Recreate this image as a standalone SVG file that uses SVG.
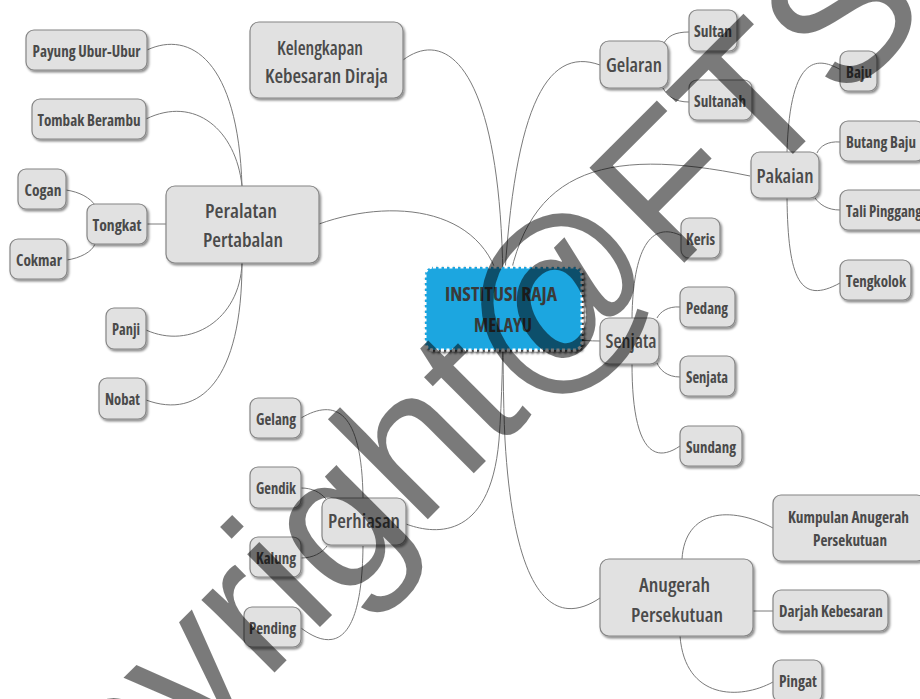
<svg xmlns="http://www.w3.org/2000/svg" width="920" height="699" viewBox="0 0 920 699">
<defs>
<filter id="sh" x="-20%" y="-20%" width="140%" height="150%">
<feDropShadow dx="1.5" dy="2" stdDeviation="1.2" flood-color="#000" flood-opacity="0.45"/>
</filter>
<filter id="sh2" x="-20%" y="-20%" width="140%" height="150%">
<feDropShadow dx="2" dy="2" stdDeviation="1" flood-color="#000" flood-opacity="0.75"/>
</filter>
<style>
.n rect{fill:#e1e1e1;stroke:#868686;stroke-width:1.2;filter:url(#sh)}
.t{font-family:"Open Sans","Noto Sans",sans-serif;fill:#4a4a4a;text-anchor:middle;font-stretch:condensed}
.s{font-size:15.5px;font-weight:700}
.m{font-size:19.5px;font-weight:600}
.k{font-size:19px;font-weight:700;fill:#3a3a3a}
#conn path{fill:none;stroke:#7a7a7a;stroke-width:1}
.wm{font-family:"Liberation Sans",Arial,sans-serif;font-size:195px;fill:#000;fill-opacity:0.52}
</style>
</defs>
<rect width="920" height="699" fill="#fff"/>
<g id="conn">
<path d="M403,60 C450,25 505,75 503,308"/>
<path d="M600,65 C545,45 512,110 503,308"/>
<path d="M750,176 C600,145 520,170 505,308"/>
<path d="M319,224 C400,195 500,210 503,308"/>
<path d="M600,341 C560,341 520,330 503,308"/>
<path d="M406,524 C430,533 490,545 499,440 C502,400 503,350 503,308"/>
<path d="M600,598 C560,625 515,610 505,440 C503,400 503,350 503,308"/>
<path d="M147,50 C190,30 238,60 242,186"/>
<path d="M146,119 C195,95 236,130 242,186"/>
<path d="M147,224 L166,224"/>
<path d="M146,330 C190,350 240,320 242,263"/>
<path d="M146,400 C200,420 242,380 242,263"/>
<path d="M66,190 C80,192 90,198 95,205"/>
<path d="M67,260 C80,258 92,252 95,244"/>
<path d="M689,32 C675,32 668,36 664,43"/>
<path d="M689,102 C675,102 667,96 663,88"/>
<path d="M841,70 C820,58 790,50 787,152"/>
<path d="M840,142 C828,141 820,146 817,153"/>
<path d="M840,210 C828,210 820,205 815,198"/>
<path d="M787,198 C788,280 800,305 840,283"/>
<path d="M682,236 C650,220 633,250 632,318"/>
<path d="M680,307 C668,306 660,312 657,318"/>
<path d="M680,377 C667,377 660,370 657,363"/>
<path d="M632,364 C632,430 645,470 680,446"/>
<path d="M301,418 C335,398 362,410 363,498"/>
<path d="M301,488 C312,488 320,492 326,499"/>
<path d="M301,558 C313,558 322,553 327,546"/>
<path d="M301,628 C330,650 362,650 363,546"/>
<path d="M682,559 C685,510 730,505 773,528"/>
<path d="M753,611 L773,611"/>
<path d="M680,636 C685,700 740,700 773,682"/>
</g>
<g id="center">
<rect x="425" y="267" width="157" height="83" rx="8" fill="#1fa6e0" stroke="#fff" stroke-width="3" stroke-dasharray="3 2.5" filter="url(#sh2)"/>
<text class="t k" x="501" y="301" textLength="112" lengthAdjust="spacingAndGlyphs">INSTITUSI RAJA</text>
<text class="t k" x="503" y="332" textLength="58" lengthAdjust="spacingAndGlyphs">MELAYU</text>
</g>
<g id="kelengkapan" class="n"><rect x="250" y="22" width="153" height="76" rx="9"/>
<text class="t m" x="320" y="55" textLength="86" lengthAdjust="spacingAndGlyphs">Kelengkapan</text>
<text class="t m" x="326.5" y="83" textLength="123" lengthAdjust="spacingAndGlyphs">Kebesaran Diraja</text></g>
<g id="peralatan" class="n"><rect x="166" y="186" width="153" height="77" rx="9"/>
<text class="t m" x="241" y="218" textLength="72" lengthAdjust="spacingAndGlyphs">Peralatan</text>
<text class="t m" x="243" y="247" textLength="80" lengthAdjust="spacingAndGlyphs">Pertabalan</text></g>
<g id="gelaran" class="n"><rect x="600" y="41" width="68" height="47" rx="9"/>
<text class="t m" x="634" y="72" textLength="56" lengthAdjust="spacingAndGlyphs">Gelaran</text></g>
<g id="pakaian" class="n"><rect x="751" y="152" width="68" height="46" rx="9"/>
<text class="t m" x="785" y="183" textLength="57" lengthAdjust="spacingAndGlyphs">Pakaian</text></g>
<g id="senjata" class="n"><rect x="600" y="318" width="59" height="46" rx="9"/>
<text class="t m" x="631" y="348" textLength="51" lengthAdjust="spacingAndGlyphs">Senjata</text></g>
<g id="perhiasan" class="n"><rect x="322" y="498" width="84" height="47" rx="9"/>
<text class="t m" x="364" y="528" textLength="72" lengthAdjust="spacingAndGlyphs">Perhiasan</text></g>
<g id="anugerah" class="n"><rect x="600" y="559" width="153" height="77" rx="9"/>
<text class="t m" x="674.5" y="592" textLength="71" lengthAdjust="spacingAndGlyphs">Anugerah</text>
<text class="t m" x="677" y="622" textLength="92" lengthAdjust="spacingAndGlyphs">Persekutuan</text></g>
<g id="payung" class="n"><rect x="26" y="30" width="121" height="40" rx="8"/>
<text class="t s" x="86.5" y="56.5" textLength="108" lengthAdjust="spacingAndGlyphs">Payung Ubur-Ubur</text></g>
<g id="tombak" class="n"><rect x="32" y="99" width="114" height="40" rx="8"/>
<text class="t s" x="89" y="125.5" textLength="103" lengthAdjust="spacingAndGlyphs">Tombak Berambu</text></g>
<g id="cogan" class="n"><rect x="18" y="169" width="48" height="40" rx="8"/>
<text class="t s" x="43" y="195.5" textLength="37" lengthAdjust="spacingAndGlyphs">Cogan</text></g>
<g id="tongkat" class="n"><rect x="87" y="204" width="60" height="40" rx="8"/>
<text class="t s" x="117" y="230.5" textLength="49" lengthAdjust="spacingAndGlyphs">Tongkat</text></g>
<g id="cokmar" class="n"><rect x="10" y="239" width="57" height="40" rx="8"/>
<text class="t s" x="39" y="265.5" textLength="46" lengthAdjust="spacingAndGlyphs">Cokmar</text></g>
<g id="panji" class="n"><rect x="106" y="308" width="40" height="41" rx="8"/>
<text class="t s" x="126" y="335" textLength="28" lengthAdjust="spacingAndGlyphs">Panji</text></g>
<g id="nobat" class="n"><rect x="99" y="378" width="47" height="41" rx="8"/>
<text class="t s" x="122.5" y="405" textLength="35" lengthAdjust="spacingAndGlyphs">Nobat</text></g>
<g id="gelang" class="n"><rect x="250" y="398" width="51" height="40" rx="8"/>
<text class="t s" x="276" y="424.5" textLength="40" lengthAdjust="spacingAndGlyphs">Gelang</text></g>
<g id="gendik" class="n"><rect x="250" y="467" width="51" height="41" rx="8"/>
<text class="t s" x="276" y="493.5" textLength="40" lengthAdjust="spacingAndGlyphs">Gendik</text></g>
<g id="kalung" class="n"><rect x="250" y="537" width="51" height="40" rx="8"/>
<text class="t s" x="276" y="563.5" textLength="40" lengthAdjust="spacingAndGlyphs">Kalung</text></g>
<g id="pending" class="n"><rect x="244" y="607" width="57" height="40" rx="8"/>
<text class="t s" x="272.5" y="633.5" textLength="47" lengthAdjust="spacingAndGlyphs">Pending</text></g>
<g id="sultan" class="n"><rect x="689" y="10" width="48" height="41" rx="8"/>
<text class="t s" x="713" y="37" textLength="38" lengthAdjust="spacingAndGlyphs">Sultan</text></g>
<g id="sultanah" class="n"><rect x="689" y="80" width="63" height="40" rx="8"/>
<text class="t s" x="720" y="106.5" textLength="52" lengthAdjust="spacingAndGlyphs">Sultanah</text></g>
<g id="baju" class="n"><rect x="840" y="51" width="37" height="40" rx="8"/>
<text class="t s" x="859" y="77.5" textLength="26" lengthAdjust="spacingAndGlyphs">Baju</text></g>
<g id="butang" class="n"><rect x="840" y="121" width="84" height="40" rx="8"/>
<text class="t s" x="881" y="147.5" textLength="70" lengthAdjust="spacingAndGlyphs">Butang Baju</text></g>
<g id="tali" class="n"><rect x="840" y="190" width="92" height="40" rx="8"/>
<text class="t s" x="884" y="216.5" textLength="76" lengthAdjust="spacingAndGlyphs">Tali Pinggang</text></g>
<g id="tengkolok" class="n"><rect x="840" y="260" width="71" height="40" rx="8"/>
<text class="t s" x="876" y="286.5" textLength="60" lengthAdjust="spacingAndGlyphs">Tengkolok</text></g>
<g id="keris" class="n"><rect x="681" y="218" width="39" height="40" rx="8"/>
<text class="t s" x="700.5" y="244.5" textLength="29" lengthAdjust="spacingAndGlyphs">Keris</text></g>
<g id="pedang" class="n"><rect x="680" y="287" width="55" height="40" rx="8"/>
<text class="t s" x="707" y="313.5" textLength="42" lengthAdjust="spacingAndGlyphs">Pedang</text></g>
<g id="senjata2" class="n"><rect x="680" y="356" width="55" height="40" rx="8"/>
<text class="t s" x="707" y="382.5" textLength="42" lengthAdjust="spacingAndGlyphs">Senjata</text></g>
<g id="sundang" class="n"><rect x="680" y="426" width="62" height="40" rx="8"/>
<text class="t s" x="711" y="452.5" textLength="50" lengthAdjust="spacingAndGlyphs">Sundang</text></g>
<g id="kumpulan" class="n"><rect x="773" y="495" width="152" height="66" rx="8"/>
<text class="t s" x="848.5" y="523" textLength="121" lengthAdjust="spacingAndGlyphs">Kumpulan Anugerah</text>
<text class="t s" x="850" y="546" textLength="74" lengthAdjust="spacingAndGlyphs">Persekutuan</text></g>
<g id="darjah" class="n"><rect x="773" y="590" width="115" height="41" rx="8"/>
<text class="t s" x="831" y="616.5" textLength="104" lengthAdjust="spacingAndGlyphs">Darjah Kebesaran</text></g>
<g id="pingat" class="n"><rect x="773" y="660" width="49" height="42" rx="8"/>
<text class="t s" x="798" y="686.5" textLength="38" lengthAdjust="spacingAndGlyphs">Pingat</text></g>
<text class="wm" transform="translate(-57,1004) rotate(-45)">Copyright@FTSM</text>
</svg>
